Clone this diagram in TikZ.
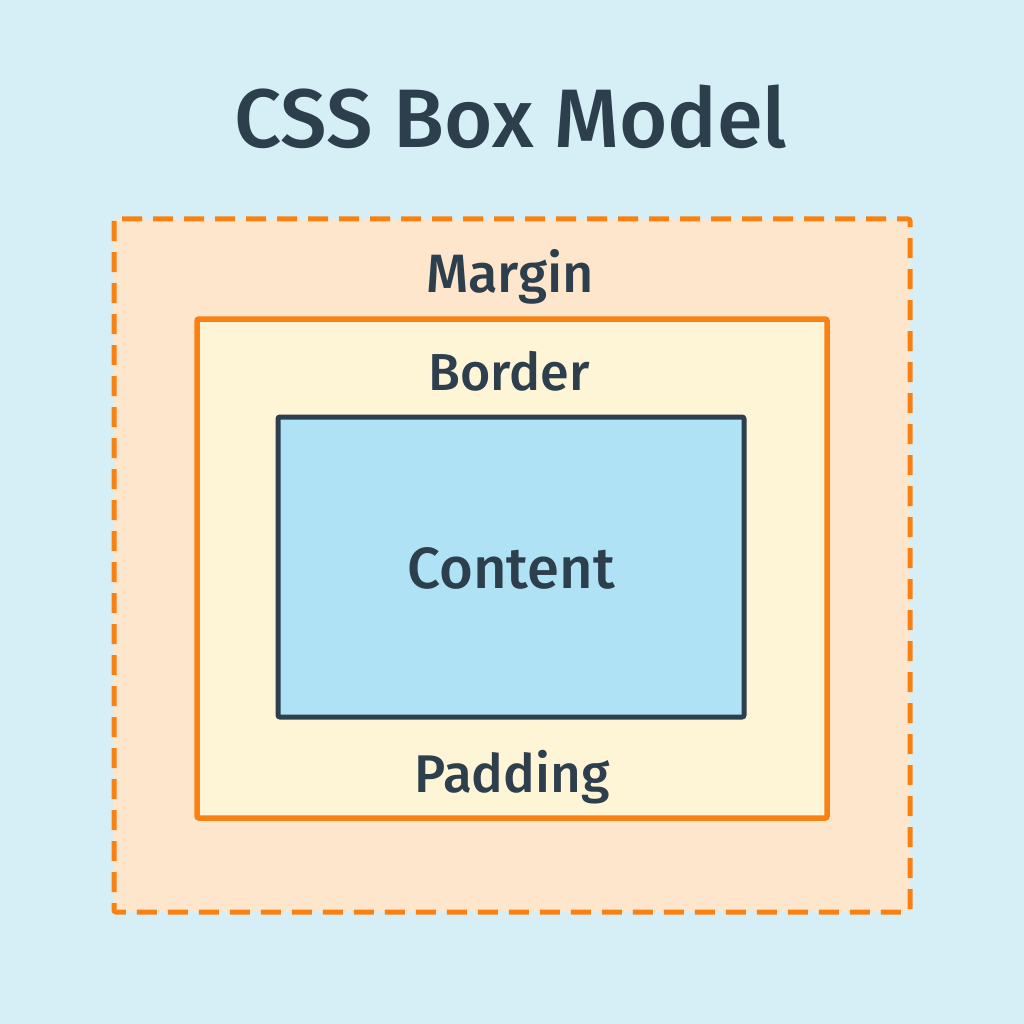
\documentclass[tikz,border=0pt]{standalone}
\usepackage{fontspec}
\setmainfont{Fira Sans}[BoldFont={Fira Sans Medium}]
\definecolor{bgc}{HTML}{D6EFF6}
\definecolor{marginc}{HTML}{FDE6CB}
\definecolor{borderc}{HTML}{FEF5D7}
\definecolor{contentc}{HTML}{AEE2F4}
\definecolor{orangec}{HTML}{F98114}
\definecolor{darkc}{HTML}{2D3E4D}
\begin{document}
\begin{tikzpicture}[x=1pt,y=-1pt,
  lbl/.style={anchor=base,inner sep=0pt,text=darkc,font=\bfseries\fontsize{52}{52}\selectfont},
  marginbox/.style={draw=orangec,fill=marginc,line width=5pt,dash pattern=on 20pt off 11pt,rounded corners=2pt},
  borderbox/.style={draw=orangec,fill=borderc,line width=5.5pt,rounded corners=2pt},
  contentbox/.style={draw=darkc,fill=contentc,line width=5pt,rounded corners=2pt}]
\useasboundingbox[fill=bgc] (0,0) rectangle (1024,1024);
\node[lbl,font=\bfseries\fontsize{83}{83}\selectfont] (title) at (511,148) {CSS Box Model};
\draw[marginbox] (114,219) rectangle (910,912);
\draw[borderbox] (197,319) rectangle (827,818);
\draw[contentbox] (278,417) rectangle (744,717);
\node[lbl,font=\bfseries\fontsize{54}{54}\selectfont] (margin) at (510,292) {Margin};
\node[lbl] (border) at (509,390) {Border};
\node[lbl,font=\bfseries\fontsize{58}{58}\selectfont] (content) at (511,588) {Content};
\node[lbl,font=\bfseries\fontsize{53}{53}\selectfont] (padding) at (512,792) {Padding};
\end{tikzpicture}
\end{document}
